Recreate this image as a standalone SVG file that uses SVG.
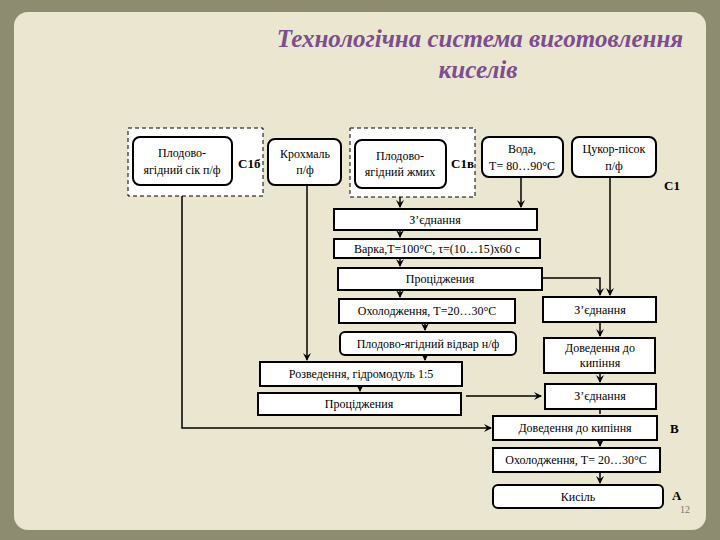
<svg xmlns="http://www.w3.org/2000/svg" width="720" height="540" viewBox="0 0 720 540">
<defs>
<marker id="ar" markerWidth="8" markerHeight="8" refX="7" refY="4" orient="auto" markerUnits="userSpaceOnUse"><path d="M0,0 L8,4 L0,8 L3,4 Z" fill="#000"/></marker>
<style>
.b{fill:#fff;stroke:#000;stroke-width:2}
.d{fill:#fff;stroke:#000;stroke-width:1;stroke-dasharray:4,3}
.t{font-family:"Liberation Serif",serif;font-size:12px;text-anchor:middle;fill:#000}
.l{font-family:"Liberation Serif",serif;font-size:13px;font-weight:bold;fill:#000}
.c{fill:none;stroke:#000;stroke-width:1.5}
</style>
</defs>
<rect width="720" height="540" fill="#8d8c70"/>
<rect x="14" y="12" width="692" height="518" rx="14" fill="#ebe6cf"/>
<text x="480" y="47" font-family="Liberation Serif,serif" font-size="25" font-style="italic" font-weight="bold" fill="#7b4d91" text-anchor="middle">Технологічна система виготовлення</text>
<text x="478" y="78" font-family="Liberation Serif,serif" font-size="25" font-style="italic" font-weight="bold" fill="#7b4d91" text-anchor="middle">киселів</text>

<g id="connectors">
<path class="c" d="M182,185 V428 H491" marker-end="url(#ar)"/>
<path class="c" d="M307,185 V360" marker-end="url(#ar)"/>
<path class="c" d="M400,188 V207" marker-end="url(#ar)"/>
<path class="c" d="M521,177 V207" marker-end="url(#ar)"/>
<path class="c" d="M400,230 V237" marker-end="url(#ar)"/>
<path class="c" d="M400,258 V266" marker-end="url(#ar)"/>
<path class="c" d="M400,290 V297" marker-end="url(#ar)"/>
<path class="c" d="M425,323 V330" marker-end="url(#ar)"/>
<path class="c" d="M425,355 V360" marker-end="url(#ar)"/>
<path class="c" d="M360,386 V391" marker-end="url(#ar)"/>
<path class="c" d="M542,278 H600 V295" marker-end="url(#ar)"/>
<path class="c" d="M610,177 V295" marker-end="url(#ar)"/>
<path class="c" d="M600,322 V336" marker-end="url(#ar)"/>
<path class="c" d="M600,373 V382" marker-end="url(#ar)"/>
<path class="c" d="M466,396 H541" marker-end="url(#ar)"/>
<path class="c" d="M600,409 V414"/>
<path class="c" d="M600,440 V446" marker-end="url(#ar)"/>
<path class="c" d="M600,472 V483" marker-end="url(#ar)"/>
</g>

<g id="group-c1b"><rect class="d" x="128" y="128" width="135" height="68"/><text class="l" x="238" y="168">С1б</text></g>
<g id="sik"><rect class="b" x="133" y="137" width="99" height="48" rx="7"/><text class="t" x="182" y="157">Плодово-</text><text class="t" x="182" y="174">ягідний сік п/ф</text></g>
<g id="krokhmal"><rect class="b" x="268" y="139" width="73" height="46" rx="7"/><text class="t" x="305" y="158">Крохмаль</text><text class="t" x="305" y="174">п/ф</text></g>
<g id="group-c1v"><rect class="d" x="350" y="128" width="125" height="69"/><text class="l" x="451" y="168">С1в</text></g>
<g id="zhmykh"><rect class="b" x="355" y="140" width="91" height="48" rx="7"/><text class="t" x="400" y="160">Плодово-</text><text class="t" x="400" y="176">ягідний жмих</text></g>
<g id="voda"><rect class="b" x="482" y="137" width="81" height="40" rx="7"/><text class="t" x="522" y="153">Вода,</text><text class="t" x="522" y="170">Т= 80…90°С</text></g>
<g id="tsukor"><rect class="b" x="572" y="137" width="84" height="40" rx="7"/><text class="t" x="614" y="153">Цукор-пісок</text><text class="t" x="614" y="170">п/ф</text></g>
<text class="l" x="664" y="190" font-size="15">С1</text>

<g id="zied1"><rect class="b" x="334" y="209" width="203" height="21"/><text class="t" x="435" y="224">З’єднання</text></g>
<g id="varka"><rect class="b" x="334" y="239" width="206" height="19"/><text class="t" x="437" y="253">Варка,Т=100°С, τ=(10…15)х60 с</text></g>
<g id="protsid1"><rect class="b" x="338" y="268" width="204" height="22"/><text class="t" x="440" y="283">Проціджения</text></g>
<g id="okhol1"><rect class="b" x="339" y="299" width="176" height="24"/><text class="t" x="427" y="315">Охолодження, Т=20…30°С</text></g>
<g id="vidvar"><rect class="b" x="340" y="332" width="176" height="23" rx="5"/><text class="t" x="428" y="348">Плодово-ягідний відвар н/ф</text></g>
<g id="rozv"><rect class="b" x="260" y="362" width="202" height="24"/><text class="t" x="361" y="378">Розведення, гідромодуль 1:5</text></g>
<g id="protsid2"><rect class="b" x="258" y="393" width="203" height="22"/><text class="t" x="359" y="408">Проціджения</text></g>
<g id="zied2"><rect class="b" x="543" y="297" width="113" height="25"/><text class="t" x="600" y="314">З’єднання</text></g>
<g id="dov1"><rect class="b" x="544" y="338" width="111" height="35"/><text class="t" x="600" y="352">Доведення до</text><text class="t" x="600" y="367">кипіння</text></g>
<g id="zied3"><rect class="b" x="545" y="384" width="111" height="25"/><text class="t" x="600" y="400">З’єднання</text></g>
<g id="dov2"><rect class="b" x="493" y="416" width="164" height="24"/><text class="t" x="575" y="432">Доведення до кипіння</text></g>
<text class="l" x="670" y="433">В</text>
<g id="okhol2"><rect class="b" x="493" y="448" width="167" height="24"/><text class="t" x="576" y="464">Охолодження, Т= 20…30°С</text></g>
<g id="kysil"><rect class="b" x="493" y="485" width="170" height="23" rx="5"/><text class="t" x="578" y="501">Кисіль</text></g>
<text class="l" x="672" y="500">А</text>
<text x="680" y="513" font-family="Liberation Serif,serif" font-size="10" fill="#777">12</text>
</svg>
